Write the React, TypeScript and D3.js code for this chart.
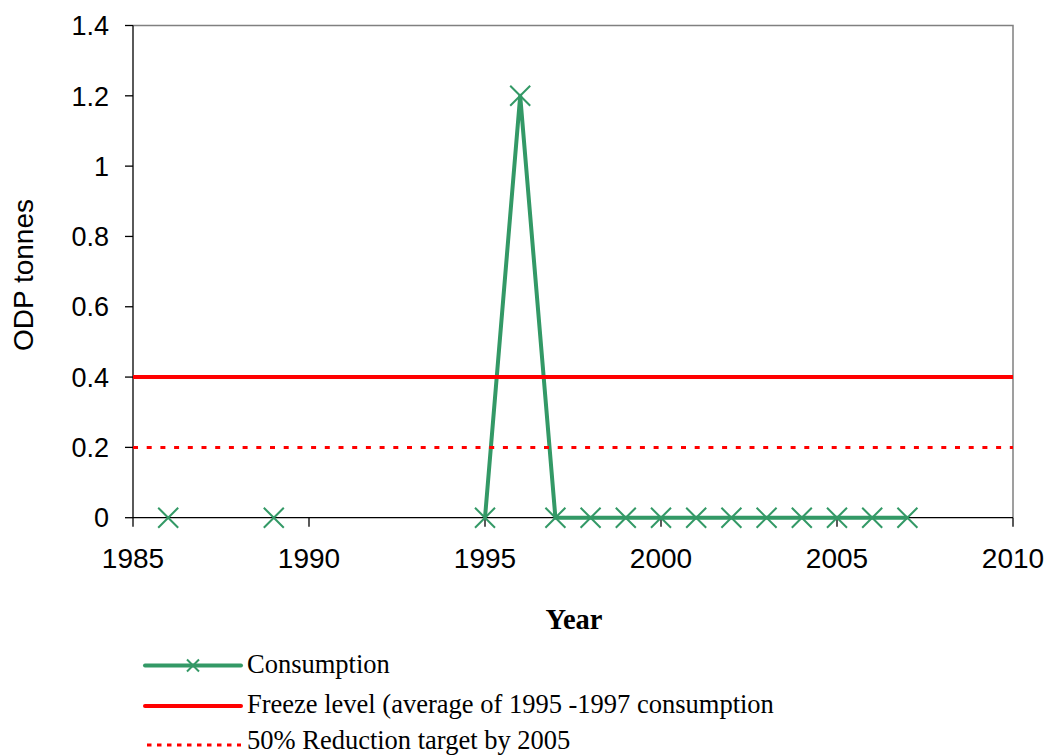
import * as d3 from "d3";

const YEARS = [1986, 1987, 1988, 1989, 1990, 1991, 1992, 1993, 1994, 1995, 1996, 1997, 1998, 1999, 2000, 2001, 2002, 2003, 2004, 2005, 2006, 2007];
const CONSUMPTION = [0, null, null, 0, null, null, null, null, null, 0, 1.2, 0, 0, 0, 0, 0, 0, 0, 0, 0, 0, 0];
const FREEZE_YEARS = [1985, 2010];
const FREEZE = [0.4, 0.4];
const TARGET = [0.2, 0.2];
const X_TICKS = [1985, 1990, 1995, 2000, 2005, 2010];
const Y_TICKS = [0, 0.2, 0.4, 0.6, 0.8, 1, 1.2, 1.4];
const LEGEND = [
  "Consumption",
  "Freeze level (average of 1995 -1997 consumption",
  "50% Reduction target by 2005",
];

const W = 1047;
const H = 756;
const LEFT = 133;
const RIGHT = 1013;
const TOP = 25.5;
const BOTTOM = 517.7;

const GREEN = "#339966";
const RED = "#ff0000";
const SANS = "'Liberation Sans', Arial, sans-serif";
const SERIF = "'Liberation Serif', 'Times New Roman', serif";

function Cross({ x, y, r = 10 }: { x: number; y: number; r?: number }) {
  return (
    <path
      d={`M${x - r},${y - r}L${x + r},${y + r}M${x - r},${y + r}L${x + r},${y - r}`}
      stroke={GREEN}
      strokeWidth={2}
      fill="none"
    />
  );
}

export default function App() {
  const x = d3.scaleLinear().domain([1985, 2010]).range([LEFT, RIGHT]);
  const y = d3.scaleLinear().domain([0, 1.4]).range([BOTTOM, TOP]);

  const cons = YEARS.map((yr, i) => ({ yr, v: CONSUMPTION[i] }));
  const line = d3
    .line<{ yr: number; v: number | null }>()
    .defined((d) => d.v !== null)
    .x((d) => x(d.yr))
    .y((d) => y(d.v as number));
  const flat = (vals: number[]) =>
    d3
      .line<number>()
      .x((_, i) => x(FREEZE_YEARS[i]))
      .y((d) => y(d))(vals) ?? "";

  const legendY = [665.5, 706, 745];
  const legendText = [672.5, 713, 749];

  return (
    <svg
      width={W}
      height={H}
      style={{ position: "absolute", left: 0, top: 0, background: "#fff" }}
    >
      {/* frame: top + right grey, axes black */}
      <path d={`M${LEFT},${TOP}H${RIGHT}V${BOTTOM}`} stroke="#808080" strokeWidth={1.5} fill="none" />
      <line x1={LEFT} x2={LEFT} y1={TOP} y2={BOTTOM} stroke="#000" strokeWidth={1.3} />
      <line x1={LEFT} x2={RIGHT} y1={BOTTOM} y2={BOTTOM} stroke="#000" strokeWidth={1.3} />

      {Y_TICKS.map((t) => (
        <g key={t}>
          <line x1={LEFT - 8} x2={LEFT} y1={y(t)} y2={y(t)} stroke="#000" strokeWidth={1.3} />
          <text
            x={109}
            y={y(t)}
            dy="0.36em"
            textAnchor="end"
            fontFamily={SANS}
            fontSize={27}
            fill="#000"
          >
            {t}
          </text>
        </g>
      ))}
      {X_TICKS.map((t) => (
        <g key={t}>
          <line x1={x(t)} x2={x(t)} y1={BOTTOM} y2={BOTTOM + 9} stroke="#000" strokeWidth={1.3} />
          <text
            x={x(t)}
            y={568}
            textAnchor="middle"
            fontFamily={SANS}
            fontSize={28}
            fill="#000"
          >
            {t}
          </text>
        </g>
      ))}

      <text
        transform={`translate(33,275) rotate(-90)`}
        textAnchor="middle"
        fontFamily={SANS}
        fontSize={28}
        fill="#000"
      >
        ODP tonnes
      </text>
      <text x={574} y={629} textAnchor="middle" fontFamily={SERIF} fontWeight="bold" fontSize={28.5} fill="#000">
        Year
      </text>

      {/* series */}
      <path d={line(cons) ?? ""} stroke={GREEN} strokeWidth={4} fill="none" strokeLinejoin="round" />
      {cons
        .filter((d) => d.v !== null)
        .map((d) => (
          <Cross key={d.yr} x={x(d.yr)} y={y(d.v as number)} />
        ))}
      <path d={flat(FREEZE)} stroke={RED} strokeWidth={4} fill="none" />
      <path d={flat(TARGET)} stroke={RED} strokeWidth={3} strokeDasharray="5 8.7" fill="none" />

      {/* legend */}
      <line x1={145} x2={241} y1={legendY[0]} y2={legendY[0]} stroke={GREEN} strokeWidth={4} strokeLinecap="round" />
      <Cross x={193} y={legendY[0]} r={6} />
      <line x1={145} x2={241} y1={legendY[1]} y2={legendY[1]} stroke={RED} strokeWidth={4} strokeLinecap="round" />
      <line x1={147} x2={241} y1={legendY[2]} y2={legendY[2]} stroke={RED} strokeWidth={3} strokeDasharray="4.5 5.5" />
      {LEGEND.map((label, i) => (
        <text key={label} x={247} y={legendText[i]} fontFamily={SERIF} fontSize={26.5} fill="#000">
          {label}
        </text>
      ))}
    </svg>
  );
}
